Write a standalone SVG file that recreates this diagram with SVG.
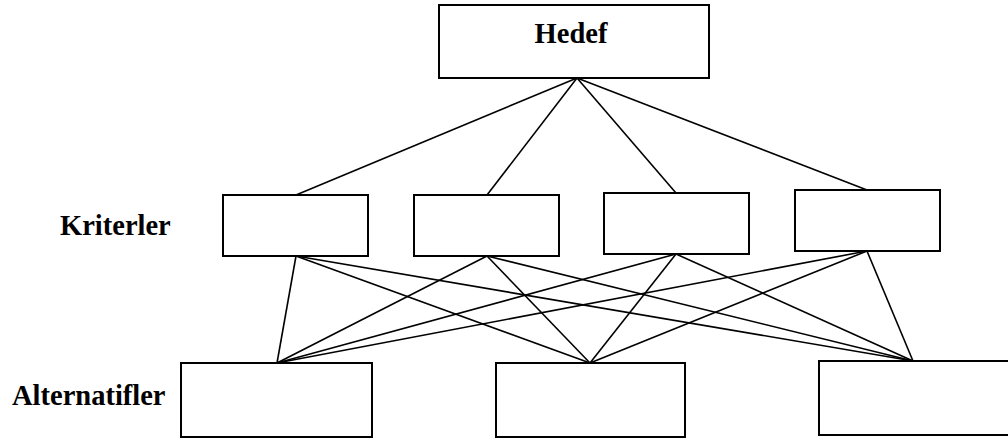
<svg xmlns="http://www.w3.org/2000/svg" width="1008" height="438" viewBox="0 0 1008 438">
<style>
.box{fill:#fff;stroke:#000;stroke-width:2}
.lbl{font-family:"Liberation Serif","Times New Roman",serif;font-weight:bold;font-size:28.5px;fill:#000}
.con line{stroke:#000;stroke-width:1.6}
</style>
<rect width="1008" height="438" fill="#fff"/>
<g id="connectors" class="con">
<line x1="577" y1="78" x2="296" y2="195"/>
<line x1="577" y1="78" x2="487" y2="195"/>
<line x1="577" y1="78" x2="676" y2="193"/>
<line x1="577" y1="78" x2="867" y2="190"/>
<line x1="296" y1="256" x2="277" y2="363"/>
<line x1="296" y1="256" x2="590" y2="363"/>
<line x1="296" y1="256" x2="913" y2="361"/>
<line x1="487" y1="256" x2="277" y2="363"/>
<line x1="487" y1="256" x2="590" y2="363"/>
<line x1="487" y1="256" x2="913" y2="361"/>
<line x1="676" y1="254" x2="277" y2="363"/>
<line x1="676" y1="254" x2="590" y2="363"/>
<line x1="676" y1="254" x2="913" y2="361"/>
<line x1="867" y1="251" x2="277" y2="363"/>
<line x1="867" y1="251" x2="590" y2="363"/>
<line x1="867" y1="251" x2="913" y2="361"/>
</g>
<g id="hedef"><rect class="box" x="439" y="5" width="270" height="73"/><text class="lbl" x="571" y="43" text-anchor="middle">Hedef</text></g>
<g id="kriterler-label"><text class="lbl" x="60" y="235">Kriterler</text></g>
<g id="k1"><rect class="box" x="223" y="195" width="145" height="61"/></g>
<g id="k2"><rect class="box" x="414" y="195" width="145" height="61"/></g>
<g id="k3"><rect class="box" x="604" y="193" width="145" height="61"/></g>
<g id="k4"><rect class="box" x="795" y="190" width="145" height="61"/></g>
<g id="alternatifler-label"><text class="lbl" x="12" y="405">Alternatifler</text></g>
<g id="a1"><rect class="box" x="181" y="363" width="191" height="74"/></g>
<g id="a2"><rect class="box" x="496" y="363" width="189" height="74"/></g>
<g id="a3"><rect class="box" x="819" y="361" width="200" height="74"/></g>
</svg>
